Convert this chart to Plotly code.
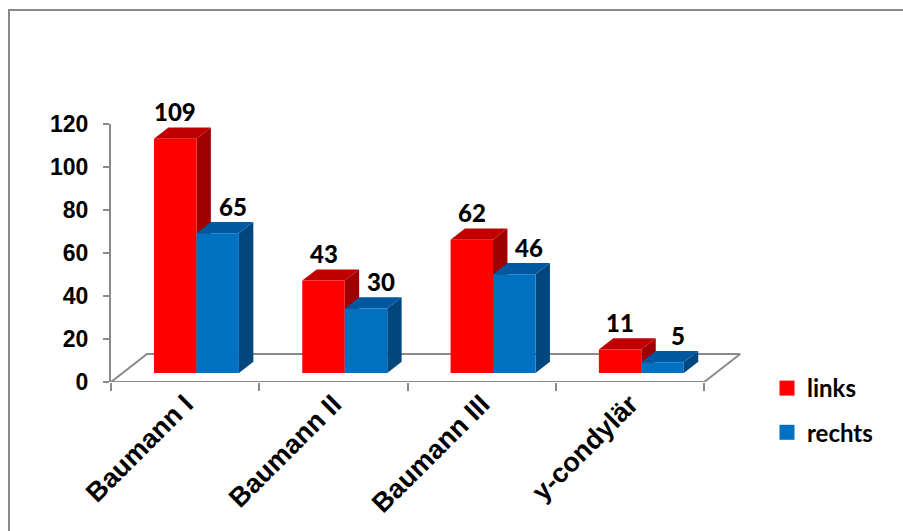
import plotly.graph_objects as go

categories = ["Baumann I", "Baumann II", "Baumann III", "y-condylär"]
links = [109, 43, 62, 11]
rechts = [65, 30, 46, 5]
series_names = ["links", "rechts"]
y_ticks = [0, 20, 40, 60, 80, 100, 120]

# colours (front, top, side)
RED = ("#FF0000", "#C00000", "#9E0000")
BLUE = ("#0070C0", "#0059A0", "#00477F")
GRAY = "#8A8A8A"

# geometry (layout / projection in data units)
PX_X = 148.3          # px per category
PX_Y = 2.15           # px per value unit
L, R, T, B = 111, 150, 124, 149
W = 903 - L - R
H = 531 - T - B
floor_dx, floor_dy = 36 / PX_X, 28 / PX_Y        # floor depth
f_front = 0.32                                  # bar front depth fraction
g_depth = 0.40                                  # bar depth fraction
bar_left, bar_w = 0.212, 0.2865

fx, fy = f_front * floor_dx, f_front * floor_dy
gx, gy = g_depth * floor_dx, g_depth * floor_dy

fig = go.Figure()

# floor
n = len(categories)
fig.add_trace(go.Scatter(
    x=[0, n, n + floor_dx, floor_dx, 0],
    y=[0, 0, floor_dy, floor_dy, 0],
    mode="lines", line=dict(color=GRAY, width=2),
    hoverinfo="skip", showlegend=False, cliponaxis=False))


def add_bar(xl, val, cols, name):
    xr = xl + bar_w
    yb = fy
    yt = fy + val
    # side face
    fig.add_trace(go.Scatter(
        x=[xr, xr + gx, xr + gx, xr, xr], y=[yb, yb + gy, yt + gy, yt, yb],
        fill="toself", fillcolor=cols[2], mode="lines", line=dict(width=0, color=cols[2]),
        hoverinfo="skip", showlegend=False, cliponaxis=False))
    # top face
    fig.add_trace(go.Scatter(
        x=[xl, xr, xr + gx, xl + gx, xl], y=[yt, yt, yt + gy, yt + gy, yt],
        fill="toself", fillcolor=cols[1], mode="lines", line=dict(width=0, color=cols[1]),
        hoverinfo="skip", showlegend=False, cliponaxis=False))
    # front face
    fig.add_trace(go.Scatter(
        x=[xl, xr, xr, xl, xl], y=[yb, yb, yt, yt, yb],
        fill="toself", fillcolor=cols[0], mode="lines", line=dict(width=0, color=cols[0]),
        hoverinfo="text", text=f"{name}: {val}", showlegend=False, cliponaxis=False))


annotations = []
for i in range(n):
    for s, (vals, cols, shift) in enumerate([(links, RED, 0), (rechts, BLUE, 15)]):
        xl = i + bar_left + s * bar_w + fx
        add_bar(xl, vals[i], cols, series_names[s])
        annotations.append(dict(
            x=xl + bar_w / 2, y=fy + vals[i], xref="x", yref="y",
            text=str(vals[i]), showarrow=False,
            xshift=shift, yshift=27, yanchor="middle", xanchor="center",
            font=dict(family="Lato", size=24, color="black", weight=900)))

# legend entries
for name, cols in zip(series_names, [RED, BLUE]):
    fig.add_trace(go.Scatter(
        x=[None], y=[None], mode="markers", name=name, legendgroup=name,
        marker=dict(symbol="square", size=15, color=cols[0])))

fig.update_layout(
    width=903, height=531,
    margin=dict(l=L, r=R, t=T, b=B, autoexpand=False),
    paper_bgcolor="white", plot_bgcolor="rgba(0,0,0,0)",
    showlegend=True,
    legend=dict(x=(767 - L) / W, xanchor="left", y=(382 - 366) / H, yanchor="top",
                font=dict(family="Lato", size=24, color="black", weight="bold"),
                tracegroupgap=10, itemsizing="trace", bgcolor="rgba(0,0,0,0)"),
    annotations=annotations,
    xaxis=dict(range=[0, W / PX_X], showgrid=False, zeroline=False, showline=False,
               tickmode="array", tickvals=[i + 0.5 for i in range(n)],
               ticktext=categories, tickangle=-45,
               ticks="", tickfont=dict(family="Liberation Sans", size=27, color="black",
                                       weight="bold"),
               minor=dict(tickmode="array", tickvals=list(range(n + 1)), ticks="outside",
                          ticklen=8, tickwidth=2, tickcolor=GRAY)),
    yaxis=dict(range=[0, 120], showgrid=False, zeroline=False, showline=True,
               linecolor=GRAY, linewidth=2, tickmode="array", tickvals=y_ticks,
               ticks="outside", ticklen=6, tickwidth=2, tickcolor=GRAY,
               ticklabelstandoff=10,
               tickfont=dict(family="Liberation Sans", size=23, color="black",
                             weight="bold")),
    shapes=[dict(type="rect", xref="paper", yref="paper",
                 x0=(9 - L) / W, x1=(930 - L) / W,
                 y0=(382 - 560) / H, y1=(382 - 10) / H,
                 line=dict(color=GRAY, width=2), fillcolor="rgba(0,0,0,0)", layer="below")],
)

fig.write_html("out.html")
